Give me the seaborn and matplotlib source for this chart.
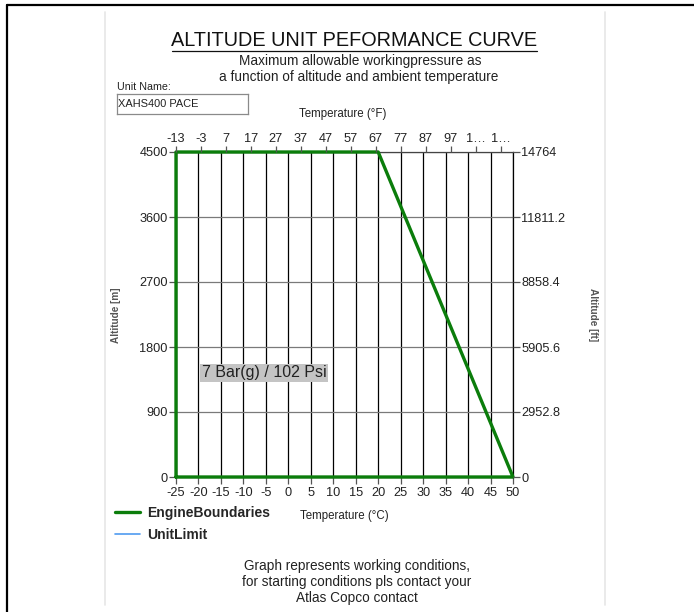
import matplotlib
matplotlib.use("Agg")
import matplotlib.pyplot as plt
from matplotlib.lines import Line2D
import seaborn as sns
import pandas as pd

# Performance envelope (temperature in °C, altitude in m)
temp_c = [-25, -25, 20, 50, -25]
alt_m = [0, 4500, 4500, 0, 0]
unit_temp_c = [-25, -25, 20, 50, -25]
unit_alt_m = [0, 4500, 4500, 0, 0]

c_ticks = [-25, -20, -15, -10, -5, 0, 5, 10, 15, 20, 25, 30, 35, 40, 45, 50]
m_ticks = [0, 900, 1800, 2700, 3600, 4500]
ft_ticks = [0, 2952.8, 5905.6, 8858.4, 11811.2, 14764]
ft_labels = ["0", "2952.8", "5905.6", "8858.4", "11811.2", "14764"]
f_ticks = [-13, -3, 7, 17, 27, 37, 47, 57, 67, 77, 87, 97, 107, 117]
f_labels = ["-13", "-3", "7", "17", "27", "37", "47", "57", "67", "77", "87", "97", "1…", "1…"]

pressure_label = "7 Bar(g) / 102 Psi"

sns.set_theme(style="white")
plt.rcParams["font.family"] = ["Liberation Sans", "DejaVu Sans"]
plt.rcParams["axes.unicode_minus"] = False

W, H = 694, 612
fig = plt.figure(figsize=(W / 100, H / 100), dpi=100)
fig.patch.set_facecolor("white")

def fx(px):
    return px / W

def fy(py):
    return 1 - py / H

TXT = "#222222"
TICK = 9.2

# page frame
fig.add_artist(Line2D([fx(7), fx(694)], [fy(5), fy(5)], color="black", lw=1.6))
fig.add_artist(Line2D([fx(7), fx(7)], [fy(5), fy(612)], color="black", lw=1.6))
for xp in (105, 605):
    fig.add_artist(Line2D([fx(xp), fx(xp)], [fy(12), fy(605)], color="#e6e6e6", lw=1.2))

ax = fig.add_axes([fx(176), fy(477), fx(513) - fx(176), fy(152) - fy(477)])

df = pd.concat([
    pd.DataFrame({"Temperature": unit_temp_c, "Altitude": unit_alt_m, "series": "UnitLimit"}),
    pd.DataFrame({"Temperature": temp_c, "Altitude": alt_m, "series": "EngineBoundaries"}),
])

ax.set_xlim(-25, 50)
ax.set_ylim(0, 4500)
ax.set_xticks(c_ticks)
ax.set_yticks(m_ticks)
for x in c_ticks:
    ax.axvline(x, color="black", lw=0.9, zorder=1)
for y in m_ticks:
    ax.axhline(y, color="#7a7a7a", lw=0.9, zorder=1)

sns.lineplot(data=df[df.series == "UnitLimit"], x="Temperature", y="Altitude",
             sort=False, estimator=None, color="#4f9bf0", lw=1.2, ax=ax, zorder=3,
             legend=False)
sns.lineplot(data=df[df.series == "EngineBoundaries"], x="Temperature", y="Altitude",
             sort=False, estimator=None, color="#0b7d0b", lw=2.4, ax=ax, zorder=4,
             legend=False)
for l in ax.lines[-2:]:
    l.set_clip_on(False)

ax.set_xlabel("")
ax.set_ylabel("")
for s in ax.spines.values():
    s.set_color("black")
    s.set_linewidth(0.9)
ax.spines["top"].set_color("#444444")
ax.tick_params(axis="both", which="major", direction="out", length=5, width=0.9,
               color="#555555", labelsize=TICK, labelcolor=TXT, pad=1,
               left=True, bottom=True)
ax.tick_params(axis="x", pad=2.5)

ax.text(-19.3, 1440, pressure_label, fontsize=11.5, color=TXT, va="center",
        ha="left", zorder=5,
        bbox=dict(boxstyle="square,pad=0.12", fc="#c4c4c4", ec="none"))

# right axis in feet
ax_r = ax.twinx()
ax_r.set_ylim(0, 14764)
ax_r.set_yticks(ft_ticks)
ax_r.set_yticklabels(ft_labels)
ax_r.tick_params(axis="y", direction="out", length=5, width=0.9, color="#555555",
                 labelsize=TICK, labelcolor=TXT, pad=1, right=True)
ax_r.grid(False)
for s in ax_r.spines.values():
    s.set_visible(False)

# top axis in °F
ax_t = ax.twiny()
ax_t.set_xlim(-25 * 9 / 5 + 32, 50 * 9 / 5 + 32)
ax_t.set_xticks(f_ticks)
ax_t.set_xticklabels(f_labels)
ax_t.tick_params(axis="x", direction="out", length=4, width=0.9, color="#555555",
                 labelsize=TICK, labelcolor=TXT, pad=1, top=True)
ax_t.grid(False)
for s in ax_t.spines.values():
    s.set_visible(False)

# titles and captions
fig.text(fx(354.5), fy(41), "ALTITUDE UNIT PEFORMANCE CURVE", fontsize=14.3,
         ha="center", va="center", color="#111111")
fig.add_artist(Line2D([fx(172), fx(537)], [fy(51), fy(51)], color="#111111", lw=0.9))
fig.text(fx(360), fy(61), "Maximum allowable workingpressure as", fontsize=9.8,
         ha="center", va="center", color=TXT)
fig.text(fx(359), fy(77), "a function of altitude and ambient temperature", fontsize=9.8,
         ha="center", va="center", color=TXT)
fig.text(fx(117), fy(87), "Unit Name:", fontsize=7.7, ha="left", va="center", color=TXT)
box = fig.add_axes([fx(117), fy(114), fx(248) - fx(117), fy(94) - fy(114)])
box.set_xticks([])
box.set_yticks([])
for s in box.spines.values():
    s.set_color("#8a8a8a")
    s.set_linewidth(0.9)
box.text(0.01, 0.5, "XAHS400 PACE", fontsize=7.9, ha="left", va="center",
         color=TXT, transform=box.transAxes)

fig.text(fx(343), fy(114), "Temperature (°F)", fontsize=8.3, ha="center", va="center",
         color=TXT)
fig.text(fx(344), fy(516), "Temperature (°C)", fontsize=8.3, ha="center", va="center",
         color=TXT)
fig.text(fx(116), fy(315), "Altitude [m]", fontsize=7.2, fontweight="bold", rotation=90,
         ha="center", va="center", color="#555555")
fig.text(fx(593), fy(315), "Altitude [ft]", fontsize=7.2, fontweight="bold", rotation=-90,
         ha="center", va="center", color="#555555")

# legend
handles = [Line2D([], [], color="#0b7d0b", lw=2.4),
           Line2D([], [], color="#4f9bf0", lw=1.2)]
fig.legend(handles, ["EngineBoundaries", "UnitLimit"], loc="upper left",
           bbox_to_anchor=(fx(112), fy(503)), frameon=False, handlelength=1.85,
           handletextpad=0.45, labelspacing=0.6, prop=dict(size=10, weight="bold"),
           borderaxespad=0, borderpad=0.2)

fig.text(fx(357), fy(566), "Graph represents working conditions,", fontsize=9.8,
         ha="center", va="center", color=TXT)
fig.text(fx(357), fy(582), "for starting conditions pls contact your", fontsize=9.8,
         ha="center", va="center", color=TXT)
fig.text(fx(357), fy(598), "Atlas Copco contact", fontsize=9.8,
         ha="center", va="center", color=TXT)

fig.savefig("out.png", dpi=100, facecolor="white")
